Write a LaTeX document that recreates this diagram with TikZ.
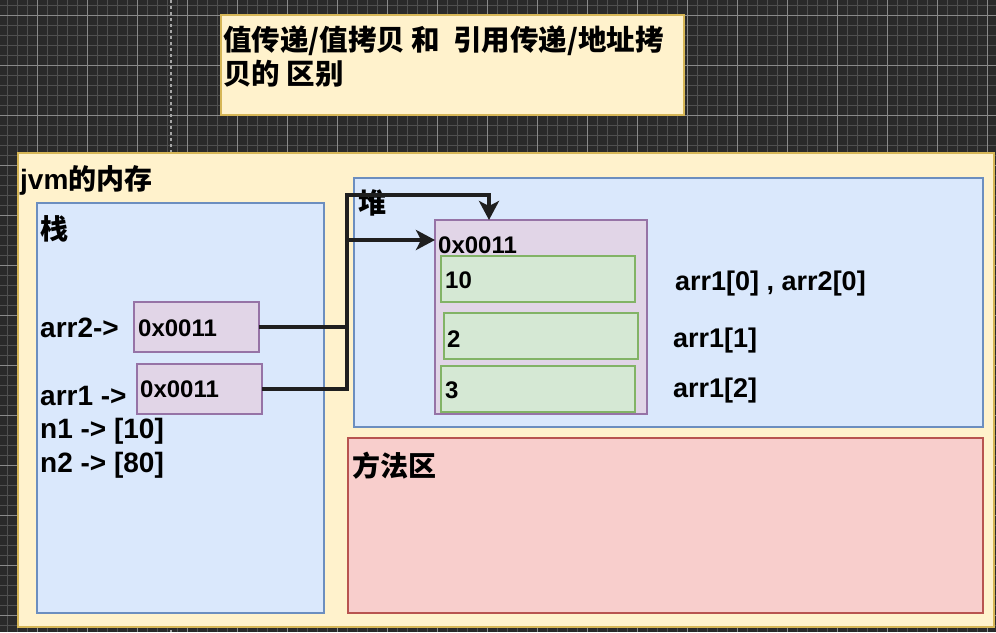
\documentclass[tikz,border=0pt]{standalone}
\usepackage{fontspec}
\setmainfont{Liberation Sans}
\newfontfamily\cjk{Noto Sans CJK SC}
\usetikzlibrary{arrows.meta}
\definecolor{bgc}{HTML}{2A2A2A}
\definecolor{gminor}{HTML}{505050}
\definecolor{gmajor}{HTML}{8A8A8A}
\definecolor{yfill}{HTML}{FFF2CC}
\definecolor{ydraw}{HTML}{D6B656}
\definecolor{bfill}{HTML}{DAE8FC}
\definecolor{bdraw}{HTML}{6C8EBF}
\definecolor{pfill}{HTML}{E1D5E7}
\definecolor{pdraw}{HTML}{9673A6}
\definecolor{gfill}{HTML}{D5E8D4}
\definecolor{gdraw}{HTML}{82B366}
\definecolor{rfill}{HTML}{F8CECC}
\definecolor{rdraw}{HTML}{B85450}
\tikzset{
  box/.style={draw, line width=1.3pt, anchor=north west, inner sep=0pt, outer sep=0pt},
  ybox/.style={box, fill=yfill, draw=ydraw},
  bbox/.style={box, fill=bfill, draw=bdraw},
  pbox/.style={box, fill=pfill, draw=pdraw},
  gbox/.style={box, fill=gfill, draw=gdraw},
  rbox/.style={box, fill=rfill, draw=rdraw},
  lbl/.style={anchor=base west, inner sep=0pt, font=\bfseries\fontsize{28}{28}\selectfont},
  hex/.style={anchor=base west, inner sep=0pt, font=\bfseries\fontsize{24}{24}\selectfont},
  rlbl/.style={anchor=base west, inner sep=0pt, font=\bfseries\fontsize{27}{27}\selectfont},
  cjklbl/.style={anchor=base west, inner sep=0pt, font=\cjk\bfseries\fontsize{28}{28}\selectfont},
  ttl/.style={anchor=base west, inner sep=0pt, font=\cjk\bfseries\fontsize{28.5}{28.5}\selectfont},
  conn/.style={line width=4pt, draw=black!88, -{Stealth[length=19pt,width=20pt,inset=5pt]}},
}
\begin{document}
\begin{tikzpicture}[x=1pt,y=-1pt]
\useasboundingbox (0,0) rectangle (996,632);
% background grid
\fill[bgc] (0,0) rectangle (996,632);
\foreach \i in {0,...,99} {\draw[gminor, line width=1pt] ({7+10*\i},0) -- ({7+10*\i},632);}
\foreach \i in {0,...,63} {\draw[gminor, line width=1pt] (0,{5+10*\i}) -- (996,{5+10*\i});}
\foreach \i in {0,...,19} {\draw[gmajor, line width=1pt] ({37+50*\i},0) -- ({37+50*\i},632);}
\foreach \i in {0,...,12} {\draw[gmajor, line width=1pt] (0,{15+50*\i}) -- (996,{15+50*\i});}
\draw[gray!70, dashed, line width=1.2pt] (171,0) -- (171,632);

% title
\node[ybox, minimum width=463pt, minimum height=100pt] (title) at (221,15) {};
\node[ttl] (t1) at (223,50) {值传递/值拷贝 和 \ 引用传递/地址拷};
\node[ttl] (t2) at (223,84) {贝的 区别};

% jvm memory
\node[ybox, minimum width=976pt, minimum height=474pt] (jvm) at (18,153) {};
\node[anchor=base west, inner sep=0pt, font=\bfseries\fontsize{28}{28}\selectfont] (jvml) at (20,189) {jvm{\cjk 的内存}};

% stack
\node[bbox, minimum width=287pt, minimum height=410pt] (stack) at (37,203) {};
\node[cjklbl] (stackl) at (40,239) {栈};
\node[lbl] (arr2l) at (40,337) {arr2->};
\node[pbox, minimum width=125pt, minimum height=50pt] (a2) at (134,302) {};
\node[hex] (a2t) at (138,336) {0x0011};
\node[lbl] (arr1l) at (40,405) {arr1 ->};
\node[pbox, minimum width=125pt, minimum height=50pt] (a1) at (137,364) {};
\node[hex] (a1t) at (140,397) {0x0011};
\node[lbl] (n1l) at (40,438) {n1 -> [10]};
\node[lbl] (n2l) at (40,472) {n2 -> [80]};

% heap
\node[bbox, minimum width=629pt, minimum height=249pt] (heap) at (354,178) {};
\node[cjklbl] (heapl) at (358,213) {堆};
\node[pbox, minimum width=212pt, minimum height=194pt] (arr) at (435,220) {};
\node[hex] (arrt) at (438,253) {0x0011};
\node[gbox, minimum width=194pt, minimum height=46pt] (e0) at (441,256) {};
\node[hex] (e0t) at (445,288) {10};
\node[gbox, minimum width=194pt, minimum height=46pt] (e1) at (444,313) {};
\node[hex] (e1t) at (447,347) {2};
\node[gbox, minimum width=194pt, minimum height=46pt] (e2) at (441,366) {};
\node[hex] (e2t) at (445,398) {3};
\node[rlbl] (r0) at (675,290) {arr1[0] , arr2[0]};
\node[rlbl] (r1) at (673,347) {arr1[1]};
\node[rlbl] (r2) at (673,397) {arr1[2]};

% method area
\node[rbox, minimum width=635pt, minimum height=175pt] (method) at (348,438) {};
\node[cjklbl] (methodl) at (352,476) {方法区};

% connectors
\coordinate (c1) at (347,195);
\coordinate (c2) at (489,195);
\coordinate (c3) at (347,240);
\draw[conn] (a2.east) -| (c1) -- (c2) -- (c2 |- arr.north);
\draw[conn] (a1.east) -| (c3) -- (c3 -| arr.west);
\end{tikzpicture}
\end{document}
